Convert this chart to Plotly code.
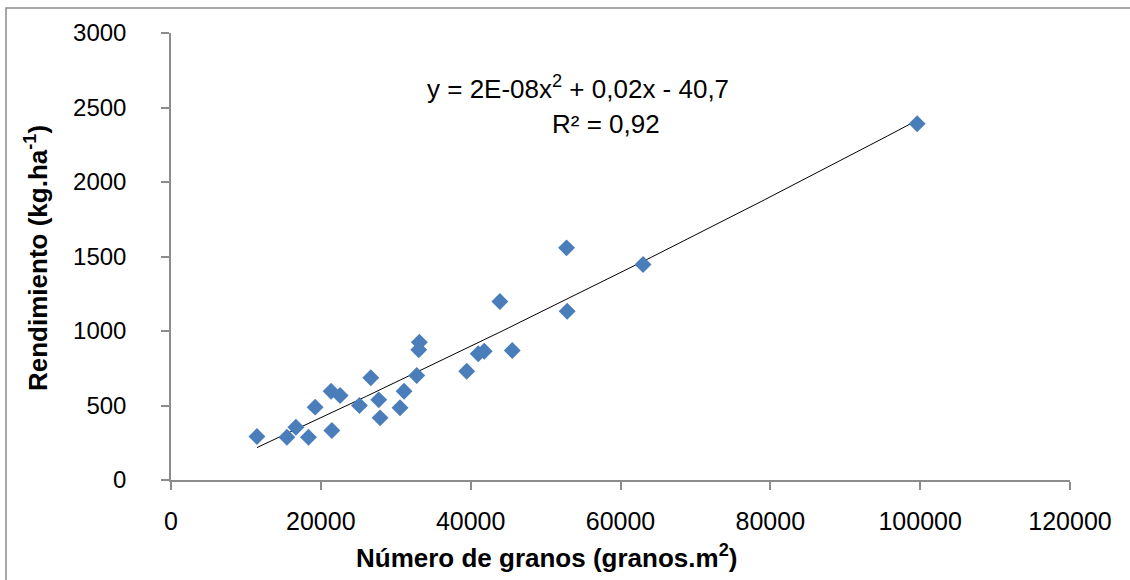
import numpy as np
import plotly.graph_objects as go

# Data
granos = [11470, 15470, 16670, 18350, 19240, 21470, 21370, 22570, 25150, 26670,
          27730, 27910, 30570, 31110, 32800, 33150, 33070, 39470, 41010, 41810,
          43900, 45550, 52800, 52880, 63010, 99600]
rendimiento = [292, 287, 354, 287, 489, 332, 596, 567, 500, 686,
               538, 417, 485, 596, 701, 925, 874, 730, 847, 864,
               1198, 869, 1558, 1133, 1446, 2391]

x_ticks = [0, 20000, 40000, 60000, 80000, 100000, 120000]
y_ticks = [0, 500, 1000, 1500, 2000, 2500, 3000]

eq_line1 = "y = 2E-08x<sup>2</sup> + 0,02x - 40,7"
eq_line2 = "R² = 0,92"
x_title = "<b>Número de granos (granos.m<sup>2</sup>)</b>"
y_title = "<b>Rendimiento (kg.ha<sup>-1</sup>)</b>"

# Polynomial (order 2) trendline, as in the original spreadsheet chart
coef = np.polyfit(granos, rendimiento, 2)
xt = np.linspace(min(granos), max(granos), 200)
yt = np.polyval(coef, xt)

fig = go.Figure()
fig.add_trace(go.Scatter(x=xt, y=yt, mode="lines",
                         line=dict(color="black", width=1), hoverinfo="skip"))
fig.add_trace(go.Scatter(x=granos, y=rendimiento, mode="markers",
                         marker=dict(symbol="diamond", size=13, color="#4A7EBB",
                                     line=dict(width=0))))

axis_col = "#8C8C8C"
FONT = "Liberation Sans, Arial, sans-serif"
fig.update_layout(
    width=1130, height=580,
    margin=dict(l=171, r=60, t=33, b=100),
    paper_bgcolor="white", plot_bgcolor="white",
    showlegend=False,
    font=dict(family=FONT, color="black"),
    xaxis=dict(range=[0, 120000], tickvals=x_ticks, ticktext=[str(v) for v in x_ticks],
               showgrid=False, zeroline=False, showline=True, linecolor=axis_col, linewidth=1.5,
               ticks="outside", ticklen=8, tickcolor=axis_col, tickwidth=1.5,
               ticklabelstandoff=10,
               tickfont=dict(size=25)),
    yaxis=dict(range=[0, 3000], tickvals=y_ticks,
               showgrid=False, zeroline=False, showline=True, linecolor=axis_col, linewidth=1.5,
               ticks="outside", ticklen=8, tickcolor=axis_col, tickwidth=1.5,
               ticklabelstandoff=30,
               tickfont=dict(size=24)),
)

# pixel -> paper helpers (plot area spans x 171..1070, y 33..480)
W0, W1, H0, H1 = 171, 1070, 33, 480
def px(xp):
    return (xp - W0) / (W1 - W0)
def py(yp):
    return (H1 - yp) / (H1 - H0)

fig.add_annotation(x=px(578), y=py(88), xref="paper", yref="paper", text=eq_line1,
                   showarrow=False, font=dict(size=26), xanchor="center", yanchor="middle")
fig.add_annotation(x=px(606), y=py(124), xref="paper", yref="paper", text=eq_line2,
                   showarrow=False, font=dict(size=26), xanchor="center", yanchor="middle")
fig.add_annotation(x=px(546), y=py(556), xref="paper", yref="paper", text=x_title,
                   showarrow=False, font=dict(size=26), xanchor="center", yanchor="middle")
fig.add_annotation(x=px(36), y=py(258), xref="paper", yref="paper", text=y_title,
                   showarrow=False, font=dict(size=26), textangle=-90,
                   xanchor="center", yanchor="middle")

# outer chart border
fig.add_shape(type="rect", xref="paper", yref="paper",
              x0=px(6), x1=px(1140), y0=py(590), y1=py(8),
              line=dict(color="#8C8C8C", width=1.5), fillcolor="rgba(0,0,0,0)", layer="below")

fig.write_html("out.html")
